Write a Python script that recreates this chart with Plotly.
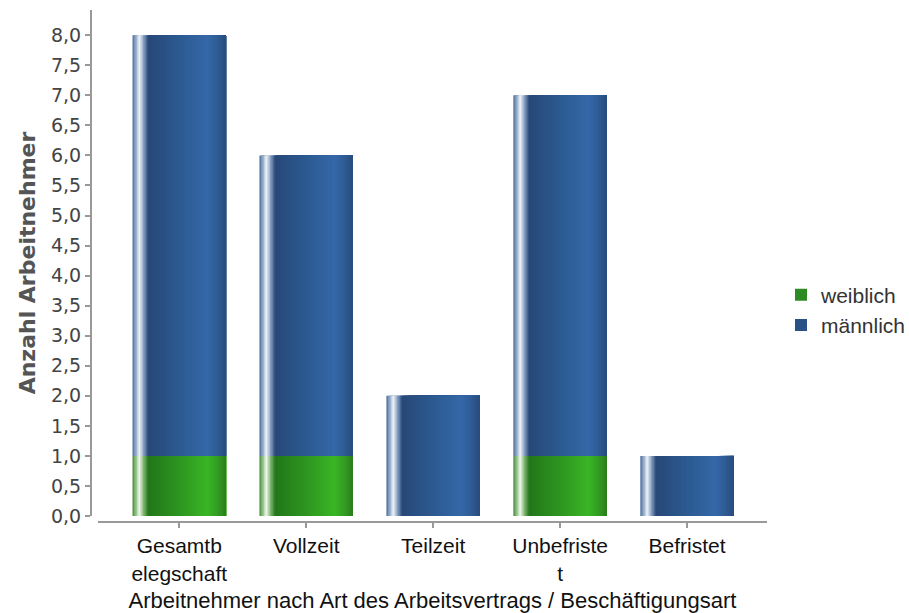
import plotly.graph_objects as go

# ---- data ----
categories = ["Gesamtb<br>elegschaft", "Vollzeit", "Teilzeit", "Unbefriste<br>t", "Befristet"]
weiblich = [1, 1, 0, 1, 0]
maennlich = [7, 5, 2, 6, 1]
y_ticks = [i * 0.5 for i in range(17)]

# ---- style ----
BAR_W = 0.737
N_STRIPES = 62
blue_stops = [(0.0, "#4d6f9c"), (0.035, "#8fa8c8"), (0.075, "#f2f5f9"), (0.115, "#8ea6c6"),
              (0.17, "#284878"), (0.5, "#2c5a91"), (0.8, "#3568a8"), (0.9, "#2f5d96"), (1.0, "#284c7d")]
green_stops = [(0.0, "#4a8c3e"), (0.035, "#8cc07f"), (0.075, "#f3f8f0"), (0.115, "#86bb79"),
               (0.17, "#22771a"), (0.5, "#2e9520"), (0.8, "#3ab526"), (0.9, "#33a022"), (1.0, "#2a7d1c")]

ARIAL = "Liberation Sans, Arial, sans-serif"


def hex2rgb(h):
    h = h.lstrip("#")
    return [int(h[i:i + 2], 16) for i in (0, 2, 4)]


def grad_color(stops, t):
    for (t0, c0), (t1, c1) in zip(stops[:-1], stops[1:]):
        if t0 <= t <= t1:
            f = 0 if t1 == t0 else (t - t0) / (t1 - t0)
            a, b = hex2rgb(c0), hex2rgb(c1)
            r = [round(a[k] + (b[k] - a[k]) * f) for k in range(3)]
            return "rgb(%d,%d,%d)" % tuple(r)
    return stops[-1][1]


fig = go.Figure()


def add_series(name, values, bases, stops, legend_color):
    vals = [v if v else None for v in values]
    step = BAR_W / N_STRIPES
    for i in range(N_STRIPES):
        t = (i + 0.5) / N_STRIPES
        off = -BAR_W / 2 + i * step
        fig.add_trace(go.Bar(
            x=categories, y=vals, base=bases,
            offset=off, width=BAR_W - i * step,
            marker=dict(color=grad_color(stops, t), line=dict(width=0)),
            name=name, legendgroup=name, showlegend=False,
            hoverinfo="skip",
        ))
    # legend entry
    fig.add_trace(go.Bar(
        x=[categories[0]], y=[None], name=name, legendgroup=name,
        marker=dict(color=legend_color, line=dict(width=0)), showlegend=True,
    ))


add_series("weiblich", weiblich, [0] * len(weiblich), green_stops, "#2c8a22")
add_series("männlich", maennlich, weiblich, blue_stops, "#2a5186")

W, H = 909, 613
L, R, T, B = 91, 909 - 767, 10, 613 - 522
plot_w = W - L - R
plot_h = H - T - B

fig.update_layout(
    width=W, height=H,
    margin=dict(l=L, r=R, t=T, b=B),
    barmode="overlay",
    separators=",.",
    paper_bgcolor="white", plot_bgcolor="white",
    showlegend=True,
    legend=dict(
        x=781 / W, xref="container", y=(H - 310) / H, yref="container",
        xanchor="left", yanchor="middle", traceorder="normal",
        font=dict(family=ARIAL, size=21, color="#333"),
        itemsizing="constant", tracegroupgap=0,
        bgcolor="rgba(0,0,0,0)",
    ),
    xaxis=dict(
        type="category", range=[-0.64, 4.63],
        domain=[(98 - L) / plot_w, 1],
        anchor="free", position=0, automargin=False,
        showline=True, linecolor="#999", linewidth=2,
        ticks="outside", ticklen=5, tickcolor="#999", tickwidth=1.5,
        tickfont=dict(family=ARIAL, size=21, color="#111"),
        showgrid=False, zeroline=False,
        title=dict(text="Arbeitnehmer nach Art des Arbeitsvertrags / Beschäftigungsart",
                   font=dict(family=ARIAL, size=22, color="#111"),
                   standoff=10),
    ),
    yaxis=dict(
        range=[0, 8.42],
        domain=[(522 - 516) / plot_h, 1],
        anchor="free", position=0, automargin=False,
        tickmode="array", tickvals=y_ticks,
        ticktext=[("%.1f" % v).replace(".", ",") for v in y_ticks],
        showline=True, linecolor="#999", linewidth=2,
        ticks="outside", ticklen=5, tickcolor="#999", tickwidth=1.5,
        tickfont=dict(family="DejaVu Sans, sans-serif", size=19, color="#444"),
        showgrid=False, zeroline=False,
        title=dict(text="<b>Anzahl Arbeitnehmer</b>",
                   font=dict(family="DejaVu Sans, sans-serif", size=22, color="#555"),
                   standoff=8),
    ),
)

fig.write_html("out.html")
